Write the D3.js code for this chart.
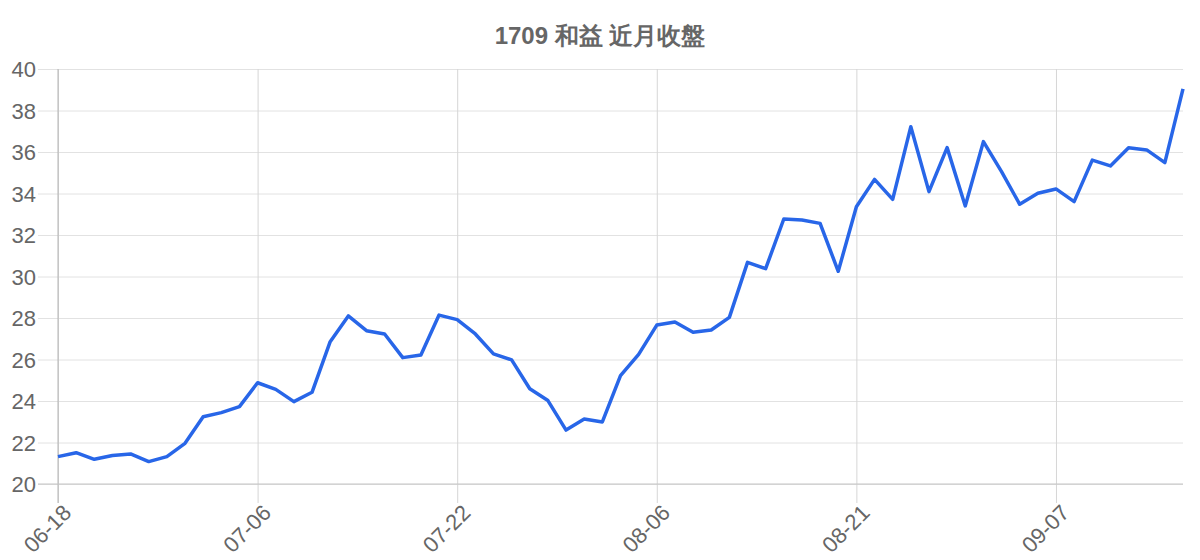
<!DOCTYPE html>
<html>
<head>
<meta charset="utf-8">
<style>
    body { margin: 0; background: #fff; }
    text { font-family: "Liberation Sans", Arial, sans-serif; fill: #666666; }
    .title { font-size: 24px; font-weight: bold; }
    .tick text { font-size: 22px; }
    .pathLine { fill: none; stroke: #2866e8; stroke-width: 3.5; stroke-linejoin: round; }
</style>
</head>
<body>
<svg id="container" width="1200" height="560"></svg>
<script src="https://cdn.jsdelivr.net/npm/d3@7"></script>
<script>
    const dates = [
        "06-18", "06-19", "06-20", "06-21", "06-22", "06-23", "06-26", "06-27", "06-28", "06-29", "06-30",
        "07-06", "07-07", "07-10", "07-11", "07-12", "07-13", "07-14", "07-17", "07-18", "07-19", "07-20",
        "07-22", "07-24", "07-25", "07-26", "07-27", "07-28", "07-31", "08-01", "08-02", "08-03", "08-04",
        "08-06", "08-07", "08-08", "08-09", "08-10", "08-11", "08-14", "08-15", "08-16", "08-17", "08-18",
        "08-21", "08-22", "08-23", "08-24", "08-25", "08-28", "08-29", "08-30", "08-31", "09-01", "09-04",
        "09-07", "09-08", "09-11", "09-12", "09-13", "09-14", "09-15", "09-18"
    ];
    const closes = [
        21.32, 21.51, 21.19, 21.37, 21.45, 21.08, 21.32, 21.96, 23.24, 23.44, 23.73,
        24.88, 24.56, 23.97, 24.42, 26.86, 28.10, 27.39, 27.23, 26.09, 26.22, 28.14,
        27.92, 27.23, 26.27, 25.98, 24.59, 24.02, 22.60, 23.13, 22.99, 25.22, 26.25,
        27.66, 27.81, 27.31, 27.42, 28.03, 30.68, 30.38, 32.77, 32.72, 32.56, 30.25,
        33.36, 34.68, 33.72, 37.22, 34.09, 36.21, 33.40, 36.50, 35.05, 33.48, 34.01,
        34.22, 33.61, 35.61, 35.33, 36.21, 36.10, 35.49, 39.04
    ];
    const tickLabels = ["06-18", "07-06", "07-22", "08-06", "08-21", "09-07"];
    const yTicks = [20, 22, 24, 26, 28, 30, 32, 34, 36, 38, 40];
    const title = "1709 和益 近月收盤";

    const svg = d3.select("#container");
    const plotLeft = 58, plotRight = 1183, plotTop = 69, plotBottom = 484;
    const data = dates.map((d, i) => ({ date: d, close: closes[i] }));

    const xScale = d3.scalePoint()
        .domain(dates)
        .range([plotLeft, plotRight]);

    const yScale = d3.scaleLinear()
        .domain([20, 40])
        .range([plotBottom, plotTop]);

    svg.append("text")
        .attr("class", "title")
        .attr("x", 600)
        .attr("y", 44)
        .attr("text-anchor", "middle")
        .text(title);

    // Y axis with grid lines
    const yAxis = svg.append("g")
        .attr("transform", `translate(${plotLeft},0)`)
        .call(d3.axisLeft(yScale)
            .tickValues(yTicks)
            .tickSize(-(plotRight - plotLeft))
            .tickPadding(22));
    yAxis.select(".domain").remove();
    yAxis.selectAll(".tick line")
        .attr("x1", -20)
        .attr("stroke", "#e2e2e2");
    yAxis.selectAll(".tick text").attr("dy", "0.36em");

    // X axis with vertical grid lines
    const xAxis = svg.append("g")
        .attr("transform", `translate(0,${plotBottom})`)
        .call(d3.axisBottom(xScale)
            .tickValues(tickLabels)
            .tickSize(19));
    xAxis.select(".domain").remove();
    xAxis.selectAll(".tick line")
        .attr("y1", -(plotBottom - plotTop))
        .attr("stroke", "#d6d6d6");
    xAxis.selectAll(".tick text")
        .attr("text-anchor", "end")
        .attr("x", 0)
        .attr("y", 0)
        .attr("dy", "0.72em")
        .attr("transform", "translate(3,19) rotate(-45)");

    // axis lines
    svg.append("line")
        .attr("x1", plotLeft).attr("x2", plotLeft)
        .attr("y1", plotTop).attr("y2", plotBottom + 19)
        .attr("stroke", "#b5b5b5");
    svg.append("line")
        .attr("x1", plotLeft - 20).attr("x2", plotRight)
        .attr("y1", plotBottom).attr("y2", plotBottom)
        .attr("stroke", "#c4c4c4");

    const valueLine = d3.line()
        .x(d => xScale(d.date))
        .y(d => yScale(d.close));

    svg.append("path")
        .datum(data)
        .attr("class", "pathLine")
        .attr("d", valueLine);
</script>
</body>
</html>
